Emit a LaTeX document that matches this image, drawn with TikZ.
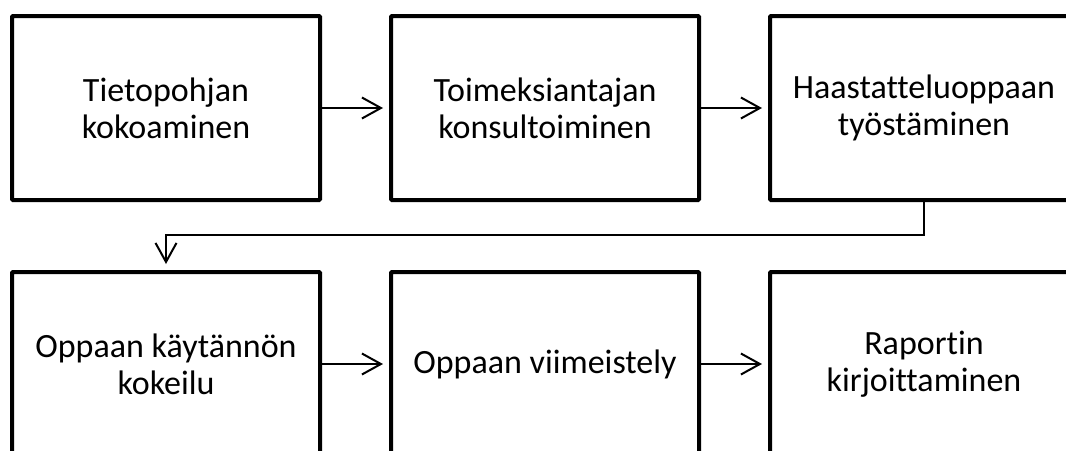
\documentclass[tikz,border=0pt]{standalone}
\usepackage{fontspec}
\setmainfont{Carlito}[Ligatures=NoCommon]
\usetikzlibrary{positioning,arrows.meta}

\begin{document}
\begin{tikzpicture}[
        x=1pt, y=1pt,
        node distance=72pt and 71pt,
        block/.style={rectangle, draw, line width=4pt, rounded corners=1pt, outer sep=0pt, minimum width=308pt, minimum height=184pt, align=center, font=\fontsize{34}{37}\selectfont},
        arrow/.style={line width=2pt, -{Straight Barb[length=19pt,width=21pt,line width=2pt]}, shorten >=8pt}
    ]
        \useasboundingbox (0,0) rectangle (1066,-450);
        \clip (0,0) rectangle (1066,-450);
        \node[block] (tieto) at (166,-108) {Tietopohjan\\kokoaminen};
        \node[block, right=of tieto] (toimeksi) {Toimeksiantajan\\konsultoiminen};
        \node[block, right=of toimeksi] (haastattelu) {Haastatteluoppaan\\työstäminen};
        \node[block, below=of tieto] (kokeilu) {Oppaan käytännön\\kokeilu};
        \node[block, right=of kokeilu] (viimeistely) {Oppaan viimeistely};
        \node[block, right=of viimeistely] (raportti) {Raportin\\kirjoittaminen};
        
        \draw[arrow] (tieto) -- (toimeksi);
        \draw[arrow] (toimeksi) -- (haastattelu);
        \draw[arrow] (haastattelu.south) -- ++(0,-35) -| (kokeilu.north);
        \draw[arrow] (kokeilu) -- (viimeistely);
        \draw[arrow] (viimeistely) -- (raportti);
    \end{tikzpicture}
\end{document}
